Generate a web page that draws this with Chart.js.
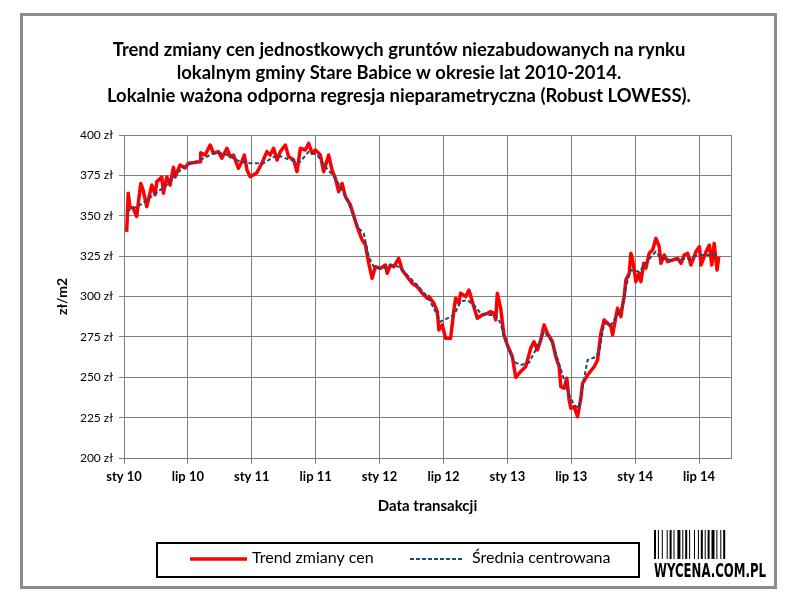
<!DOCTYPE html>
<html>
<head>
<meta charset="utf-8">
<script src="https://cdn.jsdelivr.net/npm/chart.js@4/dist/chart.umd.min.js"></script>
<style>
  html, body { margin: 0; padding: 0; background: #fff; }
  canvas { display: block; }
</style>
</head>
<body>
<canvas id="chart" width="796" height="610"></canvas>
<script>
// months counted from January 2010
const trendMonths = [0.25, 0.40, 0.56, 0.85, 1.19, 1.57, 1.79, 2.14, 2.61, 2.92, 3.08, 3.55, 3.70, 4.02, 4.33, 4.64, 4.80, 5.27, 5.74, 6.05,
  7.15, 7.20, 7.62, 8.09, 8.40, 8.87, 9.19, 9.66, 9.97, 10.28, 10.75, 11.07, 11.30, 11.55, 11.85, 12.48, 12.95, 13.42, 13.73, 14.05,
  14.37, 14.68, 15.15, 15.46, 15.93, 16.25, 16.56, 17.03, 17.34, 17.66, 17.97, 18.44, 18.75, 19.22, 19.54, 19.85, 20.16, 20.48, 20.79, 21.26,
  21.89, 22.36, 22.67, 22.98, 23.30, 23.61, 24.08, 24.55, 24.71, 25.02, 25.33, 25.80, 26.12, 26.59, 27.06, 27.53, 28.01, 28.48, 28.63, 29.10,
  29.42, 29.57, 29.89, 30.20, 30.67, 30.98, 31.14, 31.45, 31.61, 32.08, 32.39, 32.71, 33.18, 33.65, 34.12, 34.43, 34.74, 34.90, 35.06, 35.37,
  35.68, 36.00, 36.47, 36.78, 37.25, 37.72, 38.19, 38.50, 38.82, 39.13, 39.45, 39.76, 40.23, 40.55, 40.86, 41.02, 41.33, 41.58, 41.80, 41.96,
  42.27, 42.59, 42.90, 43.06, 43.53, 44.15, 44.47, 44.78, 45.09, 45.41, 45.72, 45.88, 46.19, 46.35, 46.66, 46.82, 46.97, 47.13, 47.44, 47.60,
  47.76, 47.91, 48.07, 48.38, 48.54, 48.80, 49.01, 49.32, 49.64, 49.95, 50.26, 50.42, 50.73, 51.05, 51.52, 51.99, 52.30, 52.61, 52.93, 53.24,
  53.71, 54.03, 54.19, 54.66, 54.97, 55.19, 55.42, 55.69, 55.85];
const trendValues = [340, 364, 355, 355, 349.5, 370, 366, 355.6, 369, 363, 371, 374, 364, 374, 369, 380, 374, 381.4, 379.6, 382.5,
  383.5, 389, 387.6, 393.8, 388.7, 389.7, 385.6, 391.8, 386.6, 387.6, 379.4, 383.5, 387.6, 378.3, 374.2, 376.7, 382.5, 389.7, 387.6, 391.8,
  384.5, 389.7, 393.8, 386.6, 384.5, 377.3, 391.8, 390.7, 394.8, 388.7, 390.7, 387.6, 377.3, 387.6, 378.3, 373.2, 364.9, 370, 361.8, 356.7,
  343.2, 335, 332, 320.6, 311.3, 318.4, 317.4, 319.5, 314.4, 319.5, 318.4, 323.6, 316.4, 312.3, 308.2, 306.1, 302, 298.9, 299.9, 295.8,
  290.6, 279.3, 282.4, 274.1, 274.1, 291.6, 298.9, 295.8, 302, 299.9, 304, 296.8, 286.5, 288.5, 289.6, 290.6, 289.6, 285.5, 302, 292.7,
  276.2, 270, 262.7, 250, 253.5, 256.5, 267.9, 272, 266.9, 273, 282.4, 277.2, 272, 262.7, 256.5, 244.2, 243.2, 249.4, 236, 230.8,
  231.8, 225.6, 237, 246.2, 251.4, 256.5, 260.7, 277.2, 285.5, 283.4, 281.4, 276.2, 287.5, 292.7, 287.5, 294.7, 299.9, 310.2, 314.4, 326.8,
  322.6, 316.4, 309.2, 314.4, 309.2, 320.6, 317.5, 326.8, 328.8, 336, 330.8, 320.6, 325.7, 321.6, 322.6, 323.6, 320.6, 325.7, 326.8, 319.5,
  327.8, 330.8, 319.5, 327.8, 331.9, 319.5, 332.9, 316.4, 324.7];

const avgMonths = [0.25, 1.51, 2.76, 4.02, 4.96, 5.90, 7.15, 8.40, 9.34, 10.28, 10.91, 11.85, 13.10, 14.37, 15.62, 16.56, 17.34, 18.13, 18.91, 19.69,
  20.32, 20.95, 21.57, 22.04, 22.51, 22.98, 23.45, 24.24, 25.18, 25.80, 26.59, 27.53, 28.48, 29.10, 29.73, 30.36, 30.98, 31.61, 32.24, 32.86,
  33.49, 34.12, 34.90, 35.37, 35.68, 36.15, 36.62, 37.25, 38.03, 38.82, 39.45, 40.08, 40.70, 41.33, 41.80, 42.27, 42.74, 43.06, 43.53, 44.15,
  44.62, 45.09, 45.72, 46.35, 46.82, 47.13, 47.60, 48.38, 49.01, 49.64, 49.95, 50.42, 51.36, 52.30, 53.24, 53.88, 54.82, 55.76];
const avgValues = [352.5, 356.7, 362.8, 369, 376.3, 381.4, 384.5, 388.7, 388.7, 385.6, 383.5, 382.5, 382.5, 387.6, 384.5, 383.5, 389.7, 387.6, 380.4, 374.5,
  368, 360, 349.4, 342.2, 339.1, 324.6, 318.4, 317.4, 319.5, 318.4, 313.3, 307.1, 299.9, 292.7, 284.4, 286.5, 288.5, 296.8, 297.8, 294.7,
  289.6, 288.5, 288.5, 283.4, 275.1, 266.9, 259.6, 257.6, 259, 268.9, 278.2, 273, 261.7, 248.3, 239, 232.8, 230.8, 244.2, 260.7, 262.2,
  265.5, 283.4, 282.4, 288.5, 293.7, 306.1, 316.4, 315.4, 320.6, 325.7, 327.8, 323.6, 322.6, 323, 323.6, 325.7, 325.7, 325.7];

const xTickLabels = ['sty 10', 'lip 10', 'sty 11', 'lip 11', 'sty 12', 'lip 12', 'sty 13', 'lip 13', 'sty 14', 'lip 14'];
const titleLines = [
  'Trend zmiany cen jednostkowych gruntów niezabudowanych na rynku',
  'lokalnym gminy Stare Babice w okresie lat 2010-2014.',
  'Lokalnie ważona odporna regresja nieparametryczna (Robust LOWESS).'
];
const seriesNames = ['Trend zmiany cen', 'Średnia centrowana'];

const FONT = "Lato, Calibri, 'Open Sans', sans-serif";
const RED = '#ff0000';
const BLUE = '#1f497d';
const GRID = '#7f7f7f';

const toPoints = (xs, ys) => xs.map((x, i) => ({ x, y: ys[i] }));

const decor = {
  id: 'decor',
  beforeDraw(chart) {
    const ctx = chart.ctx;
    ctx.save();
    ctx.fillStyle = '#fff';
    ctx.fillRect(0, 0, chart.width, chart.height);
    ctx.restore();
  },
  afterDraw(chart) {
    const ctx = chart.ctx;
    const a = chart.chartArea;
    ctx.save();

    // plot area frame
    ctx.strokeStyle = GRID;
    ctx.lineWidth = 1;
    ctx.setLineDash([]);
    ctx.strokeRect(a.left + 0.5, a.top + 0.5, a.right - a.left, a.bottom - a.top);

    // title
    ctx.fillStyle = '#000';
    ctx.textAlign = 'center';
    ctx.textBaseline = 'middle';
    ctx.font = 'bold 100px ' + FONT;
    const size = 100 * 573 / ctx.measureText(titleLines[0]).width;
    ctx.font = 'bold ' + size.toFixed(2) + 'px ' + FONT;
    titleLines.forEach((t, i) => ctx.fillText(t, 399, 50 + i * 23));

    // axis titles
    ctx.font = 'bold 15px ' + FONT;
    ctx.fillText('Data transakcji', (a.left + a.right) / 2, 506);
    ctx.save();
    ctx.translate(62, (a.top + a.bottom) / 2);
    ctx.rotate(-Math.PI / 2);
    ctx.font = 'bold 14px ' + FONT;
    ctx.fillText('zł/m2', 0, 0);
    ctx.restore();

    // legend
    ctx.strokeStyle = '#000';
    ctx.lineWidth = 2;
    ctx.strokeRect(157, 543, 482, 34);
    ctx.lineWidth = 3.5;
    ctx.strokeStyle = RED;
    ctx.beginPath(); ctx.moveTo(190, 559); ctx.lineTo(247, 559); ctx.stroke();
    ctx.lineWidth = 2;
    ctx.strokeStyle = BLUE;
    ctx.setLineDash([4, 2]);
    ctx.beginPath(); ctx.moveTo(410, 559); ctx.lineTo(464, 559); ctx.stroke();
    ctx.setLineDash([]);
    ctx.font = '16px ' + FONT;
    ctx.textAlign = 'left';
    ctx.fillText(seriesNames[0], 252, 558);
    ctx.fillText(seriesNames[1], 472, 558);

    // logo
    ctx.fillStyle = '#000';
    const bars = [2, 1, 1, 2, 1, 3, 1, 1, 2, 1, 1, 2, 3, 1, 1, 1, 2, 1, 1, 3, 1, 2, 1, 1, 2, 1, 1, 1, 2, 1, 3, 1, 1, 2, 1, 1, 2, 1];
    let bx = 654;
    bars.forEach((w, i) => {
      if (i % 2 === 0) ctx.fillRect(bx, 530, w, 29);
      bx += w + (i % 2 === 0 ? 0 : 0.9);
    });
    ctx.save();
    ctx.font = 'bold 20px ' + "'DejaVu Sans Condensed', 'Liberation Sans Narrow', sans-serif";
    const lw = ctx.measureText('WYCENA.COM.PL').width;
    ctx.translate(654, 572);
    ctx.scale(112 / lw, 1);
    ctx.textAlign = 'left';
    ctx.textBaseline = 'middle';
    ctx.fillText('WYCENA.COM.PL', 0, 0);
    ctx.restore();

    // outer frame
    ctx.strokeStyle = '#8c8c8c';
    ctx.lineWidth = 3;
    ctx.strokeRect(21.5, 14.5, 754, 573);
    ctx.restore();
  }
};

new Chart(document.getElementById('chart'), {
  type: 'line',
  data: {
    datasets: [{
      label: seriesNames[1],
      data: toPoints(avgMonths, avgValues),
      borderColor: BLUE,
      borderWidth: 2,
      borderDash: [4, 2.5],
      pointRadius: 0,
      tension: 0
    }, {
      label: seriesNames[0],
      data: toPoints(trendMonths, trendValues),
      borderColor: RED,
      borderWidth: 3.5,
      pointRadius: 0,
      tension: 0,
      borderJoinStyle: 'round'
    }]
  },
  options: {
    responsive: false,
    animation: false,
    layout: { padding: { left: 0, top: 135, right: 65, bottom: 122 } },
    plugins: {
      legend: { display: false },
      title: { display: false },
      tooltip: { enabled: false }
    },
    scales: {
      x: {
        type: 'linear',
        min: 0,
        max: 57,
        afterFit: s => { s.height = 30; },
        grid: {
          color: GRID,
          borderDash: [5, 4],
          tickLength: 6,
          tickBorderDash: [],
          tickColor: GRID
        },
        border: { color: GRID, width: 1 },
        ticks: {
          stepSize: 6,
          includeBounds: false,
          autoSkip: false,
          maxRotation: 0,
          padding: 5,
          color: '#000',
          font: { family: FONT, size: 13, weight: 'bold' },
          callback: v => xTickLabels[v / 6] || ''
        }
      },
      y: {
        min: 200,
        max: 400,
        afterFit: s => { s.width = 124; },
        grid: {
          color: GRID,
          borderDash: [5, 4],
          tickLength: 5,
          tickBorderDash: [],
          tickColor: GRID
        },
        border: { color: GRID, width: 1 },
        ticks: {
          stepSize: 25,
          padding: 6,
          color: '#000',
          font: { family: FONT, size: 12 },
          callback: v => v + ' zł'
        }
      }
    }
  },
  plugins: [decor]
});
</script>
</body>
</html>
